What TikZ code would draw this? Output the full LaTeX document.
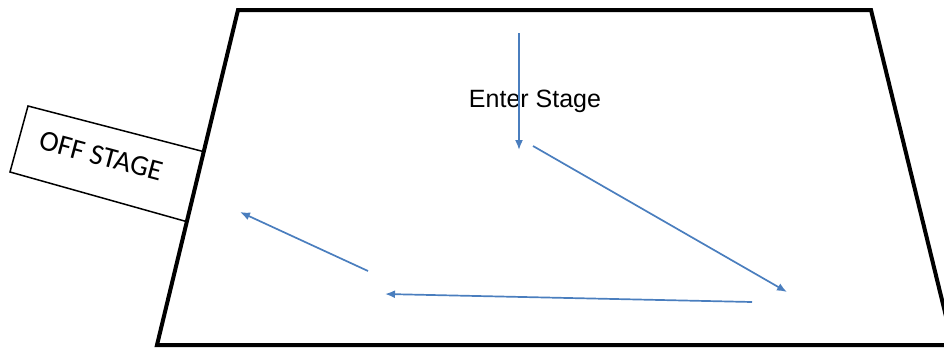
\documentclass[tikz,border=0pt]{standalone}
\usepackage{fontspec}
\usepackage{tikz}
\usetikzlibrary{arrows,arrows.meta}
\usetikzlibrary{positioning}
\newfontfamily\calfont{Carlito}
\newfontfamily\arialfont{Liberation Sans}
\definecolor{weg}{RGB}{74,126,190}

\begin{document}
\begin{tikzpicture}[%
x={(1pt,0pt)},
y={(0pt,-1pt)},
buehne/.style={line width=4pt, line join=miter},
seite/.style={line width=1.5pt, fill=white},
weg/.style={draw=weg, line width=1.7pt, -{Latex[length=10pt,width=8pt]}},
]
\useasboundingbox (0,0) rectangle (944,348);

%Buehne
\coordinate (A) at (238,10);
\coordinate (B) at (871,10);
\coordinate (C) at (953,345);
\coordinate (D) at (157,345);

%Seitenbuehne
\coordinate (E) at (28,106);
\coordinate (F) at (10,172);
\coordinate (G) at (205,152);
\coordinate (H) at (188,222);

%Wege
\coordinate (P1) at (519,33);
\coordinate (P2) at (519,150);
\coordinate (P3) at (533,146);
\coordinate (P4) at (787,292);
\coordinate (P5) at (752,302);
\coordinate (P6) at (385,294);
\coordinate (P7) at (368,271);
\coordinate (P8) at (240,212);

\draw[seite] (G) -- (E) -- (F) -- (H);
\node[rotate=-15, inner sep=0pt] (off) at (101,156) {\calfont\fontsize{29}{29}\selectfont OFF STAGE};

\draw[buehne] (A) -- (B) -- (C) -- (D) -- cycle;

\node[inner sep=0pt] (enter) at (535,101) {\arialfont\fontsize{25}{25}\selectfont Enter Stage};

\draw[weg] (P1) -- (P2);
\draw[weg] (P3) -- (P4);
\draw[weg] (P5) -- (P6);
\draw[weg] (P7) -- (P8);

\end{tikzpicture}
\end{document}
